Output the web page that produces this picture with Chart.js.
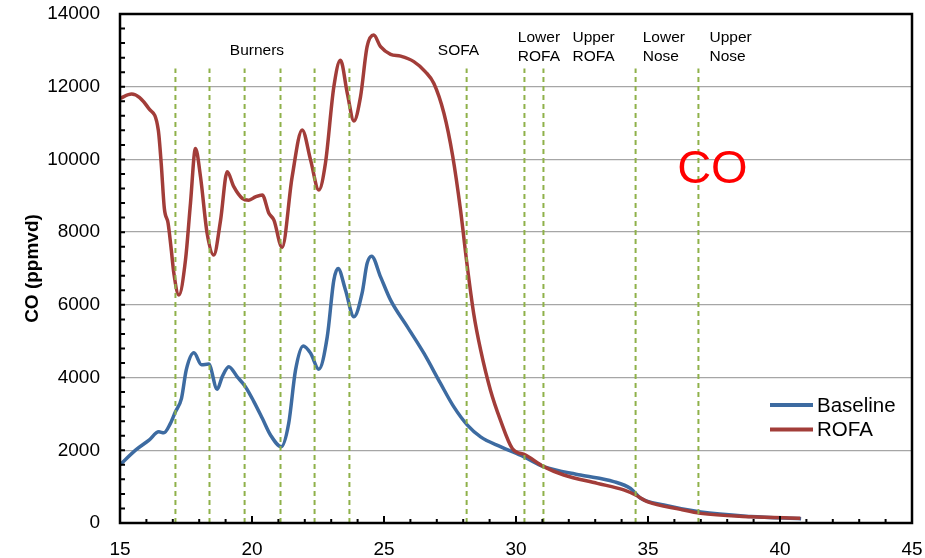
<!DOCTYPE html>
<html>
<head>
<meta charset="utf-8">
<script src="https://cdn.jsdelivr.net/npm/chart.js@4.4.1/dist/chart.umd.min.js"></script>
<style>
html,body{margin:0;padding:0;background:#fff;}
#wrap{width:925px;height:558px;position:relative;}
</style>
</head>
<body>
<div id="wrap"><canvas id="c" width="925" height="558"></canvas></div>
<script>
// ---- data ----
const baselineX = [15.0,15.6,16.1,16.47,16.66,16.91,17.10,17.33,17.51,17.80,18.09,18.36,18.68,18.87,19.12,19.44,19.75,20.07,20.39,20.70,21.11,21.39,21.65,21.94,22.22,22.53,22.85,23.10,23.26,23.54,23.86,24.17,24.36,24.53,24.87,25.25,25.88,26.51,27.14,27.64,28.15,28.66,29.41,30.30,31.05,32.44,33.70,34.34,34.72,35.60,37.0,38.9,40.8];
const baselineY = [1600,2010,2280,2510,2480,2740,3060,3430,4210,4680,4350,4370,3680,4020,4300,4020,3750,3340,2880,2420,2100,2740,4210,4870,4670,4230,5120,6680,7000,6410,5670,6320,7140,7340,6770,6130,5400,4670,3840,3200,2700,2370,2100,1820,1550,1320,1140,950,680,495,300,180,120];

const rofaX = [15.0,15.44,16.09,16.45,16.56,16.68,16.82,16.93,17.04,17.23,17.48,17.67,17.86,18.05,18.30,18.55,18.81,19.06,19.31,19.63,19.88,20.13,20.39,20.64,20.83,21.14,21.52,21.90,22.22,22.53,22.78,23.10,23.35,23.61,23.86,24.11,24.36,24.61,24.87,25.25,25.63,26.13,26.57,26.89,27.27,27.60,27.90,28.13,28.40,28.66,29.03,29.41,29.86,30.36,31.05,31.81,33.08,34.08,34.53,34.97,36.23,36.99,38.88,40.77];
const rofaY = [11680,11800,11400,10810,9900,8650,8250,7600,6870,6270,7230,8800,10300,9520,7970,7370,8330,9660,9250,8930,8880,8970,9020,8520,8330,7580,9520,10810,9980,9160,9890,12000,12730,11820,11060,11720,13100,13420,13100,12890,12840,12690,12410,12090,11270,10100,8600,7200,5750,4760,3660,2830,2050,1870,1550,1320,1090,910,770,590,375,265,175,130];

const markerX = [17.1,18.39,19.72,21.08,22.37,23.69,28.13,30.32,31.04,34.53,36.91];
const markerTop = 12500;

const zoneLabelText = [["Burners"],["SOFA"],["Lower","ROFA"],["Upper","ROFA"],["Lower","Nose"],["Upper","Nose"]];
const zoneLabelX = [19.16,27.04,30.07,32.14,34.80,37.33];

const seriesNames = ["Baseline","ROFA"];
const xMin = 15, xMax = 45, xStep = 5;
const yMin = 0, yMax = 14000, yStep = 2000;
const yTitle = "CO (ppmvd)";
const bigLabel = "CO";

// ---- build chart ----
const FONT = "'Liberation Sans', Arial, Helvetica, sans-serif";
const BLUE = '#3d6ba1';
const RED = '#a23d39';
const GREEN = '#8fb14a';

function pts(xs, ys){ return xs.map((x,i)=>({x:x, y:ys[i]})); }

const datasets = [];
datasets.push({label: seriesNames[1], data: pts(rofaX, rofaY), borderColor: RED, borderWidth: 3.5, pointRadius: 0, cubicInterpolationMode: 'monotone', fill:false, order: 1});
datasets.push({label: seriesNames[0], data: pts(baselineX, baselineY), borderColor: BLUE, borderWidth: 3.5, pointRadius: 0, cubicInterpolationMode: 'monotone', fill:false, order: 2});
markerX.forEach(mx => {
  datasets.push({label: '', data: [{x: mx, y: yMin}, {x: mx, y: markerTop}], borderColor: GREEN, borderWidth: 2, borderDash: [5,4], pointRadius: 0, fill:false, order: 0});
});

const decorPlugin = {
  id: 'decor',
  afterDraw(chart) {
    const ctx = chart.ctx;
    const xs = chart.scales.x, ys = chart.scales.y;
    const ca = chart.chartArea;
    ctx.save();
    // frame
    ctx.strokeStyle = '#000';
    ctx.lineWidth = 2.5;
    ctx.strokeRect(ca.left, ca.top, ca.right - ca.left, ca.bottom - ca.top);
    // inward ticks
    ctx.lineWidth = 2;
    ctx.beginPath();
    for (let v = xMin + 1; v < xMax; v += 1) {
      const px = xs.getPixelForValue(v);
      const len = (v % xStep === 0) ? 7 : 4;
      ctx.moveTo(px, ca.bottom); ctx.lineTo(px, ca.bottom - len);
    }
    for (let v = yMin + 400; v < yMax; v += 400) {
      const py = ys.getPixelForValue(v);
      ctx.moveTo(ca.left, py); ctx.lineTo(ca.left + 5, py);
    }
    ctx.stroke();
    // zone labels
    ctx.fillStyle = '#000';
    ctx.font = '15.5px ' + FONT;
    ctx.textAlign = 'left';
    ctx.textBaseline = 'middle';
    zoneLabelText.forEach((lines, i) => {
      const px = xs.getPixelForValue(zoneLabelX[i]);
      if (lines.length === 1) {
        ctx.fillText(lines[0], px, 51);
      } else {
        ctx.fillText(lines[0], px, 38);
        ctx.fillText(lines[1], px, 56.5);
      }
    });
    // big CO label
    ctx.fillStyle = '#ff0000';
    ctx.font = '47px ' + FONT;
    ctx.textAlign = 'center';
    ctx.fillText(bigLabel, xs.getPixelForValue(37.44), ys.getPixelForValue(9700));
    // legend
    const legendItems = [[seriesNames[0], BLUE], [seriesNames[1], RED]];
    ctx.font = '20.5px ' + FONT;
    ctx.textAlign = 'left';
    ctx.textBaseline = 'middle';
    legendItems.forEach((it, i) => {
      const y = 405 + i * 24.5;
      ctx.strokeStyle = it[1];
      ctx.lineWidth = 4;
      ctx.beginPath(); ctx.moveTo(770, y); ctx.lineTo(813, y); ctx.stroke();
      ctx.fillStyle = '#000';
      ctx.fillText(it[0], 817, y + 1);
    });
    ctx.restore();
  }
};

new Chart(document.getElementById('c'), {
  type: 'line',
  data: { datasets: datasets },
  options: {
    responsive: false,
    devicePixelRatio: 1,
    animation: false,
    layout: { padding: { left: 0, right: 13, top: 14, bottom: 0 } },
    plugins: { legend: { display: false }, tooltip: { enabled: false } },
    scales: {
      x: {
        type: 'linear', min: xMin, max: xMax,
        ticks: { stepSize: xStep, color: '#000', font: { size: 19, family: FONT }, padding: 15, maxRotation: 0,
                 callback: v => String(v) },
        grid: { display: false, drawTicks: false },
        border: { display: false },
        afterFit(s) { s.height = 35; s.paddingLeft = 0; s.paddingRight = 0; }
      },
      y: {
        min: yMin, max: yMax,
        ticks: { stepSize: yStep, color: '#000', font: { size: 19, family: FONT }, padding: 20,
                 callback: v => String(v) },
        grid: { color: '#a6a6a6', lineWidth: 1.3, drawTicks: false },
        border: { display: false },
        title: { display: true, text: yTitle, color: '#000', font: { size: 19, weight: 'bold', family: FONT }, padding: { top: 21, bottom: 0 } },
        afterFit(s) { s.width = 120; s.paddingTop = 0; s.paddingBottom = 0; }
      }
    }
  },
  plugins: [decorPlugin]
});
</script>
</body>
</html>
